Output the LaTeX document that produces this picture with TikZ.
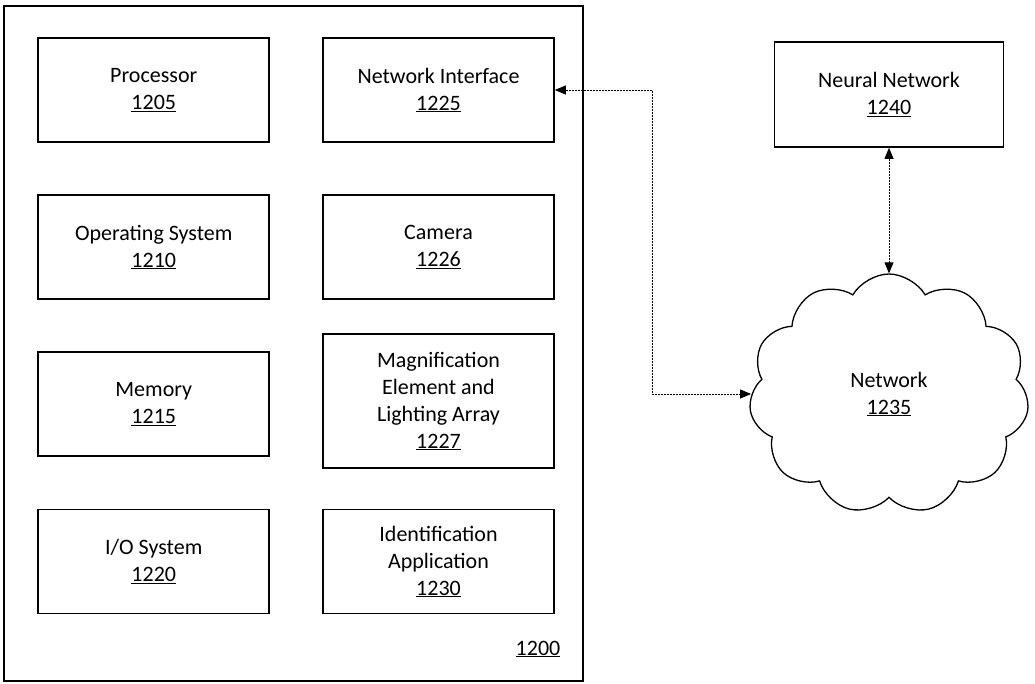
\documentclass[tikz,border=0pt]{standalone}
\usepackage{fontspec}
\setmainfont{Carlito}
\usetikzlibrary{arrows.meta,shapes.symbols,positioning}
\newcommand{\refnum}[1]{\underline{#1}}
\tikzset{
    every node/.style={font=\fontsize{22}{27}\selectfont},
    frame/.style={draw,line width=1.6pt,inner sep=0pt},
    part/.style={draw,line width=1.6pt,minimum width=231pt,minimum height=104pt,align=center,inner sep=2pt},
    netcloud/.style={draw,cloud,cloud puffs=11,cloud puff arc=120,cloud ignores aspect,minimum width=280pt,minimum height=240pt,line width=1.3pt,align=center},
    link/.style={line width=0.9pt,dash pattern=on 2pt off 1pt,{Triangle[length=11pt,width=9pt]}-{Triangle[length=11pt,width=9pt]}}
}

\begin{document}
\begin{tikzpicture}[x=1pt,y=-1pt]
\useasboundingbox (0,0) rectangle (1035,684);
% device 1200
\node[frame,minimum width=579pt,minimum height=675pt] (dev) at (293.5,343.5) {};
\node (devnum) at (538,649) {\refnum{1200}};
\node[part] (proc) at (153.75,90) {Processor\\\refnum{1205}};
\node[part] (os) at (153.75,247) {Operating System\\\refnum{1210}};
\node[part] (mem) at (153.75,404) {Memory\\\refnum{1215}};
\node[part] (io) at (153.75,561.5) {I/O System\\\refnum{1220}};
\node[part] (netif) at (438.5,90) {Network Interface\\\refnum{1225}};
\node[part] (cam) at (438.5,247) {Camera\\\refnum{1226}};
\node[part,minimum height=134pt] (mag) at (438.5,401) {Magnification\\Element and\\Lighting Array\\\refnum{1227}};
\node[part] (ident) at (438.5,561.5) {Identification\\Application\\\refnum{1230}};
% outside
\node[part,minimum width=229pt,minimum height=105pt] (nn) at (889,94.5) {Neural Network\\\refnum{1240}};
\node[netcloud] (net) at (889,394) {Network\\\refnum{1235}};
% links
\coordinate (elbow) at (652,90);
\draw[link] (netif.east) -- (elbow) |- (net.west);
\draw[link] (nn.south) -- (net.north);
\end{tikzpicture}
\end{document}
